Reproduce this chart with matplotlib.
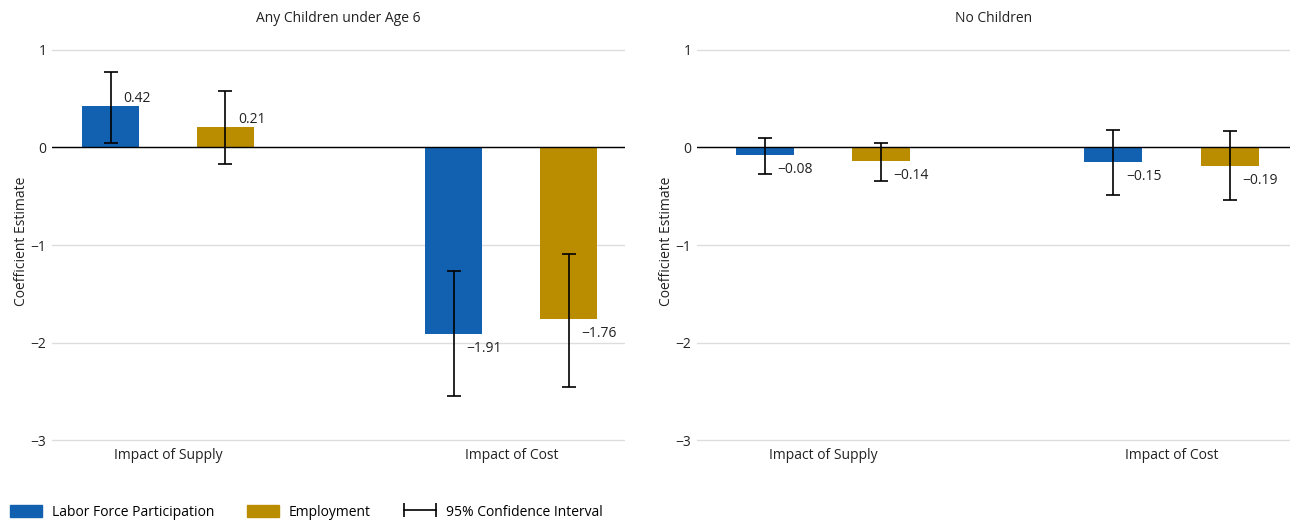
import matplotlib.pyplot as plt
import numpy as np
from matplotlib.patches import Patch
from matplotlib.lines import Line2D
from matplotlib.legend_handler import HandlerLine2D

plt.rcParams['font.family'] = ['Open Sans', 'DejaVu Sans']
plt.rcParams['font.size'] = 10

categories = ['Impact of Supply', 'Impact of Cost']
panels = ['Any Children under Age 6', 'No Children']

# coefficient estimates and 95% CI bounds, one row per panel
lfp = [[0.42, -1.91], [-0.08, -0.15]]
lfp_lo = [[0.05, -2.55], [-0.27, -0.49]]
lfp_hi = [[0.77, -1.27], [0.10, 0.18]]
emp = [[0.21, -1.76], [-0.14, -0.19]]
emp_lo = [[-0.17, -2.45], [-0.34, -0.54]]
emp_hi = [[0.58, -1.09], [0.05, 0.17]]

blue = '#1261b0'
gold = '#ba8c00'

fig = plt.figure(figsize=(12.94, 5.27), dpi=100)
ax1 = fig.add_axes([0.0402, 0.161, 0.443, 0.763])
ax2 = fig.add_axes([0.5386, 0.161, 0.458, 0.763])

x = np.arange(len(categories))
w = 0.166
off = 0.167

for i, ax in enumerate([ax1, ax2]):
    for vals, lo, hi, col, dx in [(lfp[i], lfp_lo[i], lfp_hi[i], blue, -off),
                                  (emp[i], emp_lo[i], emp_hi[i], gold, off)]:
        vals = np.array(vals)
        pos = x + dx
        ax.bar(pos, vals, width=w, color=col, zorder=2)
        yerr = [vals - np.array(lo), np.array(hi) - vals]
        ax.errorbar(pos, vals, yerr=yerr, fmt='none', ecolor='black',
                    elinewidth=1.2, capsize=5, capthick=1.2, zorder=3)
        for p, v in zip(pos, vals):
            if v >= 0:
                ax.annotate(f'{v:.2f}', (p, v), xytext=(9, 0), textcoords='offset points',
                            ha='left', va='bottom', fontsize=10, color='#222222')
            else:
                ax.annotate(f'{v:.2f}'.replace('-', '\u2212'), (p, v), xytext=(9, -5),
                            textcoords='offset points', ha='left', va='top',
                            fontsize=10, color='#222222')
    ax.axhline(0, color='black', lw=1, zorder=4)
    ax.set_ylim(-3.02, 1.1)
    ax.set_yticks([1, 0, -1, -2, -3])
    ax.set_yticklabels(['1', '0', '\u22121', '\u22122', '\u22123'])
    ax.grid(axis='y', color='#dddddd', lw=1, zorder=0)
    ax.set_xticks(x)
    ax.set_xticklabels(categories)
    ax.tick_params(length=0, pad=4, colors='#222222', labelsize=10)
    for s in ax.spines.values():
        s.set_visible(False)
    ax.set_ylabel('Coefficient Estimate', color='#222222', labelpad=1)
    ax.set_title(panels[i], fontsize=10, pad=13, color='#222222')

ax1.set_xlim(-0.338, 1.332)
ax2.set_xlim(-0.361, 1.338)

ci = Line2D([], [], color='black', lw=1.2, marker='|', markersize=10, markeredgewidth=1.2)
handles = [Patch(color=blue), Patch(color=gold), ci]
fig.legend(handles, ['Labor Force Participation', 'Employment', '95% Confidence Interval'],
           loc='lower left', bbox_to_anchor=(-0.002, -0.01), ncol=3, frameon=False,
           numpoints=2, handlelength=2.3, handleheight=1.0, handletextpad=0.7,
           columnspacing=2.4, fontsize=10,
           handler_map={ci: HandlerLine2D(marker_pad=0)})

fig.savefig('out.png', dpi=100)
